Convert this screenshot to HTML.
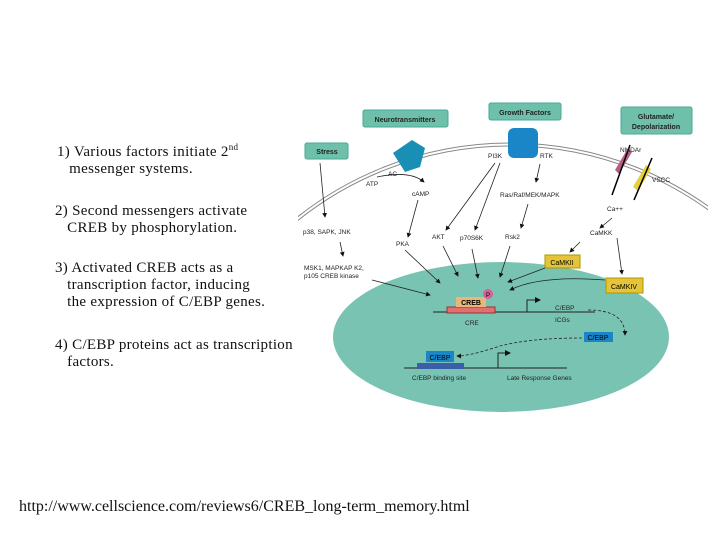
<!DOCTYPE html>
<html><head><style>
html,body{margin:0;width:720px;height:540px;overflow:hidden;}
body{background:#fff;position:relative;font-family:"Liberation Serif",serif;}
.t{position:absolute;font-size:15px;color:#111;line-height:17px;letter-spacing:0.3px;}
</style></head><body>
<svg width="720" height="540" style="position:absolute;left:0;top:0" font-family="Liberation Sans, sans-serif">
<defs><marker id="a" markerWidth="6" markerHeight="6" refX="5" refY="3" orient="auto"><path d="M0,0L6,3L0,6z" fill="#111"/></marker>
<clipPath id="c"><rect x="298" y="100" width="410" height="125"/></clipPath></defs>
<ellipse cx="501" cy="337" rx="168" ry="75" fill="#79c3b3"/>
<g clip-path="url(#c)">
<circle cx="510" cy="485" r="342" fill="none" stroke="#888" stroke-width="1"/>
<circle cx="510" cy="485" r="339" fill="none" stroke="#888" stroke-width="1"/>
</g>
<g font-size="7" font-weight="bold" fill="#222">
<rect x="363" y="110" width="85" height="17" rx="2" fill="#6fc0ab" stroke="#4a9"/><text x="405" y="122" text-anchor="middle">Neurotransmitters</text>
<rect x="489" y="103" width="72" height="17" rx="2" fill="#6fc0ab" stroke="#4a9"/><text x="525" y="115" text-anchor="middle">Growth Factors</text>
<rect x="621" y="107" width="71" height="27" rx="2" fill="#6fc0ab" stroke="#4a9"/><text x="656" y="119" text-anchor="middle">Glutamate/</text><text x="656" y="129" text-anchor="middle">Depolarization</text>
<rect x="305" y="143" width="43" height="16" rx="2" fill="#6fc0ab" stroke="#4a9"/><text x="327" y="154" text-anchor="middle">Stress</text>
</g>
<path d="M393,153 L412,140 L425,148 L420,167 L405,172 Z" fill="#1a8fb5"/>
<rect x="508" y="128" width="30" height="30" rx="6" fill="#1a86c8"/>
<path d="M615,170 L628,148 L632,152 L619,174Z" fill="#b55d85"/>
<path d="M633,187 L646,165 L651,169 L638,191Z" fill="#e5cf3a"/>
<line x1="630" y1="145" x2="612" y2="195" stroke="#000" stroke-width="1.5"/>
<line x1="652" y1="158" x2="634" y2="200" stroke="#000" stroke-width="1.5"/>
<g font-size="6.5" fill="#222">
<text x="388" y="176">AC</text><text x="366" y="186">ATP</text><text x="412" y="196">cAMP</text>
<text x="488" y="158">PI3K</text><text x="540" y="158">RTK</text><text x="500" y="197">Ras/Raf/MEK/MAPK</text>
<text x="620" y="152">NMDAr</text><text x="652" y="182">VSCC</text><text x="607" y="211">Ca++</text><text x="590" y="235">CaMKK</text>
<text x="303" y="234">p38, SAPK, JNK</text><text x="396" y="246">PKA</text><text x="432" y="239">AKT</text><text x="460" y="240">p70S6K</text><text x="505" y="239">Rsk2</text>
<text x="304" y="270">MSK1, MAPKAP K2,</text><text x="304" y="278">p105 CREB kinase</text>
<text x="465" y="325">CRE</text><text x="555" y="310">C/EBP</text><text x="555" y="322">ICGs</text>
<text x="412" y="380">C/EBP binding site</text><text x="507" y="380">Late Response Genes</text>
</g>
<rect x="545" y="255" width="35" height="13" fill="#e5c43a" stroke="#a90"/><text x="562" y="265" font-size="7" text-anchor="middle">CaMKII</text>
<rect x="606" y="278" width="37" height="15" fill="#e5c43a" stroke="#a90"/><text x="624" y="289" font-size="7" text-anchor="middle">CaMKIV</text>
<line x1="433" y1="312" x2="595" y2="312" stroke="#222"/>
<rect x="447" y="307" width="48" height="6" fill="#e27070" stroke="#933"/>
<rect x="456" y="297" width="30" height="10" fill="#e8b87a"/><text x="471" y="305" font-size="7" font-weight="bold" text-anchor="middle">CREB</text>
<circle cx="488" cy="294" r="5" fill="#d8609a"/><text x="488" y="297" font-size="6" text-anchor="middle">P</text>
<path d="M527,312 V300 H540" fill="none" stroke="#222" marker-end="url(#a)"/>
<rect x="584" y="332" width="29" height="10" fill="#1a86c8"/><text x="598" y="340" font-size="7" text-anchor="middle">C/EBP</text>
<line x1="404" y1="368" x2="567" y2="368" stroke="#222"/>
<rect x="417" y="363" width="47" height="6" fill="#3a5fa8"/>
<rect x="426" y="351" width="28" height="11" fill="#1a86c8"/><text x="440" y="360" font-size="7" text-anchor="middle">C/EBP</text>
<path d="M498,368 V353 H510" fill="none" stroke="#222" marker-end="url(#a)"/>
<g stroke="#222" fill="none" stroke-width="0.8" marker-end="url(#a)">
<path d="M320,163 L325,217"/><path d="M340,242 L343,256"/>
<path d="M372,280 L430,295"/><path d="M377,177 Q410,170 424,182"/>
<path d="M418,200 L408,237"/><path d="M405,250 L440,283"/>
<path d="M495,163 L446,230"/><path d="M500,163 L475,230"/>
<path d="M443,246 L458,276"/><path d="M472,249 L478,278"/>
<path d="M540,164 L536,182"/><path d="M528,204 L521,228"/><path d="M510,246 L500,277"/>
<path d="M612,218 L600,228"/><path d="M580,242 L570,252"/>
<path d="M545,268 L508,282"/><path d="M617,238 L622,274"/><path d="M605,280 Q540,275 510,290"/>
<path d="M588,310 Q625,310 625,335" stroke-dasharray="3,2"/><path d="M582,338 Q530,338 500,346 Q470,356 457,356" stroke-dasharray="3,2"/>
</g>
</svg>
<div class="t" style="left:57px;top:144px">1) Various factors initiate 2<sup style="font-size:9px;line-height:0">nd</sup><br>&nbsp;&nbsp;&nbsp;messenger systems.</div>
<div class="t" style="left:55px;top:203px">2) Second messengers activate<br>&nbsp;&nbsp;&nbsp;CREB by phosphorylation.</div>
<div class="t" style="left:55px;top:260px">3) Activated CREB acts as a<br>&nbsp;&nbsp;&nbsp;transcription factor, inducing<br>&nbsp;&nbsp;&nbsp;the expression of C/EBP genes.</div>
<div class="t" style="left:55px;top:337px">4) C/EBP proteins act as transcription<br>&nbsp;&nbsp;&nbsp;factors.</div>
<div class="t" style="left:19px;top:498px;font-size:16px;letter-spacing:0">http://www.cellscience.com/reviews6/CREB_long-term_memory.html</div>
</body></html>
